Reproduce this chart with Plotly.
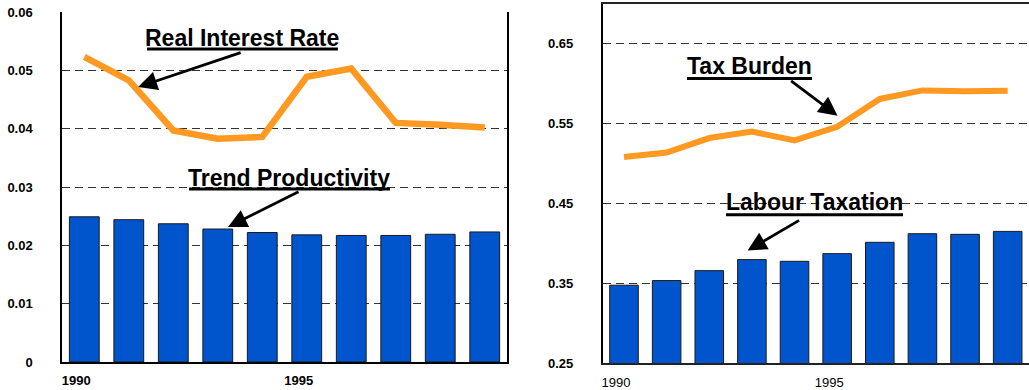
import plotly.graph_objects as go

years = [1990, 1991, 1992, 1993, 1994, 1995, 1996, 1997, 1998, 1999]

# Left panel
trend_productivity = [0.0249, 0.0244, 0.0237, 0.0228, 0.0222, 0.0218, 0.0217, 0.0217, 0.0219, 0.0223]
real_interest_rate = [0.0523, 0.0483, 0.0397, 0.0383, 0.0386, 0.0489, 0.0503, 0.0410, 0.0407, 0.0402]
left_yticks = [0, 0.01, 0.02, 0.03, 0.04, 0.05, 0.06]
left_yticktext = ["0", "0.01", "0.02", "0.03", "0.04", "0.05", "0.06"]

# Right panel
labour_taxation = [0.3475, 0.3533, 0.3658, 0.3796, 0.3775, 0.3871, 0.4013, 0.4121, 0.4113, 0.4150]
tax_burden = [0.5083, 0.5138, 0.5320, 0.5400, 0.5290, 0.5460, 0.5810, 0.5917, 0.5908, 0.5913]
right_yticks = [0.25, 0.35, 0.45, 0.55, 0.65]
right_yticktext = ["0.25", "0.35", "0.45", "0.55", "0.65"]

xtick_vals = [1990, 1995]
xtick_text = ["1990", "1995"]

BLUE = "#0055CC"
ORANGE = "#FF9922"
FONT = "Liberation Sans, Arial, sans-serif"

fig = go.Figure()

fig.add_trace(go.Bar(x=years, y=trend_productivity, width=0.67, marker=dict(color=BLUE, line=dict(color="#1a1a1a", width=1)),
                     xaxis="x", yaxis="y", showlegend=False))
fig.add_trace(go.Scatter(x=years, y=real_interest_rate, mode="lines", line=dict(color=ORANGE, width=6.5),
                         xaxis="x", yaxis="y", showlegend=False))
fig.add_trace(go.Bar(x=years, y=labour_taxation, width=0.67, marker=dict(color=BLUE, line=dict(color="#1a1a1a", width=1)),
                     xaxis="x2", yaxis="y2", showlegend=False))
fig.add_trace(go.Scatter(x=years, y=tax_burden, mode="lines", line=dict(color=ORANGE, width=6),
                         xaxis="x2", yaxis="y2", showlegend=False))

grid_common = dict(showgrid=True, gridcolor="#333333", griddash="8px,5px", gridwidth=1, zeroline=False, ticks="")

fig.update_layout(
    width=1029, height=390,
    margin=dict(l=0, r=0, t=0, b=0),
    paper_bgcolor="white", plot_bgcolor="white",
    font=dict(family=FONT, color="black"),
    xaxis=dict(domain=[0.0603, 0.4927], range=[1989.5, 1999.5], showgrid=False, zeroline=False,
               showline=True, linecolor="black", linewidth=1.5, ticks="",
               tickvals=xtick_vals, ticktext=xtick_text, ticklabelshift=-8, ticklabelstandoff=6,
               tickfont=dict(size=13, weight="bold"), anchor="y", automargin=False),
    yaxis=dict(domain=[0.0718, 0.969], range=[0, 0.06], tickvals=left_yticks, ticktext=left_yticktext,
               showline=True, mirror=True, linecolor="black", linewidth=1.5,
               tickfont=dict(size=13, weight="bold"), ticklabelstandoff=25, anchor="x", automargin=False,
               **grid_common),
    xaxis2=dict(domain=[0.5857, 1.0], range=[1989.5, 1999.5], showgrid=False, zeroline=False,
                showline=True, mirror=True, linecolor="#222222", linewidth=1.5, ticks="",
                tickvals=xtick_vals, ticktext=xtick_text, ticklabelshift=-8, ticklabelstandoff=7,
                tickfont=dict(size=13), anchor="y2", automargin=False),
    yaxis2=dict(domain=[0.0692, 0.9897], range=[0.25, 0.70], tickvals=right_yticks, ticktext=right_yticktext,
                showline=True, linecolor="black", linewidth=1.5,
                tickfont=dict(size=13, weight="bold"), ticklabelstandoff=25, anchor="x2", automargin=False,
                **grid_common),
)

label_font = dict(family=FONT, size=23, color="black", weight="bold")
arrow_style = dict(text="", showarrow=True, arrowhead=2, arrowsize=1.35, arrowwidth=2.8, arrowcolor="black")
annotations = [
    dict(text="Real Interest Rate", x=1993.545, y=0.0556, xref="x", yref="y", showarrow=False, font=label_font),
    dict(text="Trend Productivity", x=1994.61, y=0.0315, xref="x", yref="y", showarrow=False, font=label_font),
    dict(text="Tax Burden", x=1992.94, y=0.6225, xref="x2", yref="y2", showarrow=False, font=label_font),
    dict(text="Labour Taxation", x=1994.48, y=0.4516, xref="x2", yref="y2", showarrow=False, font=label_font),
    dict(x=1991.21, y=0.04714, xref="x", yref="y", ax=104, ay=-35, **arrow_style),
    dict(x=1993.23, y=0.02314, xref="x", yref="y", ax=72, ay=-36, **arrow_style),
    dict(x=1995.01, y=0.56, xref="x2", yref="y2", ax=-48, ay=-36, **arrow_style),
    dict(x=1992.9, y=0.391, xref="x2", yref="y2", ax=53, ay=-31, **arrow_style),
]

underline = dict(type="line", line=dict(color="black", width=3), layer="above")
shapes = [
    # white patch behind "Trend Productivity" hiding the gridline
    dict(type="rect", xref="x", yref="y", x0=1992.33, x1=1996.9, y0=0.0300, y1=0.0335,
         fillcolor="white", line=dict(width=0), layer="above"),
    dict(xref="x", yref="y", x0=1991.41, x1=1995.70, y0=0.05366, y1=0.05366, **underline),
    dict(xref="x", yref="y", x0=1992.354, x1=1996.871, y0=0.02966, y1=0.02966, **underline),
    dict(xref="x2", yref="y2", x0=1991.478, x1=1994.41, y0=0.6066, y1=0.6066, **underline),
    dict(xref="x2", yref="y2", x0=1992.393, x1=1996.545, y0=0.4359, y1=0.4359, **underline),
]
fig.update_layout(annotations=annotations, shapes=shapes)

fig.write_html("out.html")
